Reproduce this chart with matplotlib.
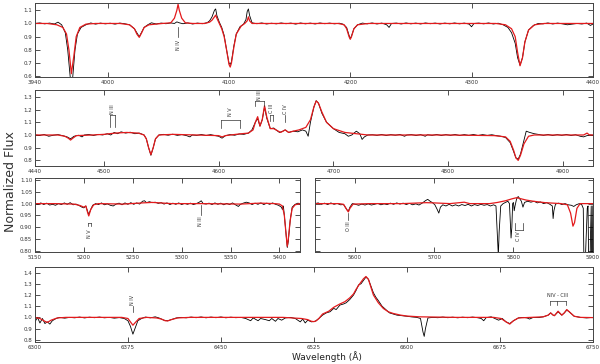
import matplotlib
matplotlib.use('Agg')
from matplotlib import pyplot as plt
import numpy as np

####  dati  ####
# pannello 1 : 3940-4400
wl1_obs = [3940,3944,3948,3952,3956,3959,3962,3965,3967,3969,3970,3971,3973,3975,3978,3982,3986,3990,3994,3998,
	4002,4006,4010,4014,4018,4022,4024,4026,4028,4030,4033,4036,4040,4044,4048,4052,4055,4057,4059,4062,
	4066,4070,4074,4078,4082,4084,4086,4088,4089,4090,4092,4094,4096,4098,4100,4101,4102,4104,4106,4109,
	4112,4114,4115,4116,4117,4119,4123,4127,4131,4135,4139,4143,4147,4151,4155,4159,4163,4167,4171,4175,
	4179,4183,4187,4191,4194,4197,4199,4200,4201,4203,4206,4210,4214,4218,4222,4226,4230,4232,4234,4238,
	4242,4246,4250,4254,4258,4262,4266,4270,4274,4278,4282,4286,4290,4294,4298,4300,4302,4306,4310,4314,
	4318,4322,4326,4330,4333,4336,4338,4340,4342,4344,4347,4351,4355,4359,4363,4367,4371,4375,4379,4383,
	4387,4391,4395,4398,4400]
fl1_obs = [1.0,1.004,0.997,1.003,0.996,1.01,0.99,0.93,0.8,0.6,0.5,0.58,0.8,0.92,0.97,0.99,1.004,0.995,1.003,0.997,
	1.002,0.995,1.003,0.998,0.99,0.96,0.93,0.9,0.935,0.97,0.99,1.005,0.996,1.003,0.998,1.004,1.0,1.012,1.005,0.998,
	1.004,0.996,1.003,0.998,1.006,1.02,1.05,1.1,1.11,1.06,1.01,0.97,0.91,0.8,0.7,0.69,0.71,0.83,0.92,0.975,
	0.995,1.03,1.09,1.11,1.06,1.005,0.998,1.004,0.996,1.002,0.997,1.004,0.998,1.003,0.995,1.004,0.997,1.003,0.996,1.004,
	0.998,1.003,0.997,1.002,0.995,0.97,0.91,0.885,0.905,0.96,0.99,1.003,0.997,1.004,0.996,1.003,0.99,0.97,1.0,1.003,
	0.996,1.004,0.997,1.003,0.996,1.004,0.998,1.003,0.996,1.003,0.997,1.004,0.997,1.003,0.995,0.975,1.0,1.003,0.997,1.004,
	0.996,1.002,0.99,0.97,0.93,0.85,0.74,0.685,0.74,0.86,0.95,0.985,1.0,0.997,1.004,0.996,1.003,0.997,0.99,0.995,
	1.0,0.996,1.003,0.985,0.995]
wl1_mod = [3940,3950,3958,3963,3966,3968,3970,3972,3974,3977,3982,3990,4010,4018,4022,4024,4026,4028,4030,4034,
	4045,4052,4055,4057,4058,4059,4061,4064,4070,4080,4084,4086,4088,4089,4090,4092,4094,4096,4098,4100,
	4101,4102,4104,4106,4110,4113,4115,4116,4117,4119,4122,4130,4190,4195,4197,4199,4200,4201,4203,4206,
	4215,4320,4328,4333,4336,4338,4340,4342,4344,4347,4352,4360,4400]
fl1_mod = [1.0,1.0,0.99,0.97,0.92,0.8,0.62,0.75,0.9,0.97,0.995,1.0,1.0,0.99,0.96,0.92,0.895,0.93,0.97,0.99,
	1.0,1.005,1.04,1.1,1.145,1.1,1.04,1.005,1.0,1.0,1.01,1.025,1.05,1.063,1.04,1.0,0.96,0.9,0.8,0.69,
	0.67,0.7,0.82,0.92,0.98,1.0,1.02,1.05,1.02,1.0,1.0,1.0,1.0,0.99,0.96,0.9,0.88,0.9,0.96,0.99,
	1.0,1.0,0.99,0.96,0.9,0.78,0.68,0.74,0.86,0.95,0.99,1.0,1.0]

# pannello 2 : 4440-4926
wl2_obs = [4440,4444,4448,4452,4456,4460,4464,4468,4471,4474,4478,4481,4483,4487,4491,4495,4499,4503,4506,4509,
	4512,4515,4519,4523,4527,4531,4535,4537,4539,4541,4543,4545,4548,4552,4556,4560,4564,4568,4572,4575,
	4577,4581,4585,4589,4593,4597,4600,4603,4606,4610,4614,4618,4622,4626,4629,4632,4634,4636,4638,4640,
	4642,4645,4648,4650,4653,4656,4658,4661,4665,4669,4673,4676,4678,4680,4683,4685,4687,4690,4694,4700,
	4705,4710,4713,4716,4720,4723,4725,4727,4730,4734,4738,4742,4746,4750,4754,4758,4762,4764,4768,4772,
	4776,4780,4782,4786,4790,4794,4798,4802,4806,4810,4814,4818,4822,4826,4830,4834,4838,4842,4846,4850,
	4854,4857,4859,4861,4863,4866,4868,4871,4875,4879,4883,4887,4891,4895,4899,4903,4907,4911,4915,4918,
	4921,4924,4926]
fl2_obs = [1.0,0.996,1.004,0.99,0.998,1.003,0.995,0.985,0.97,0.99,0.998,0.985,1.0,1.004,0.996,1.005,1.0,1.01,1.0,1.02,
	1.01,1.025,1.015,1.022,1.01,1.015,1.0,0.97,0.9,0.84,0.9,0.97,1.0,1.005,0.998,1.006,0.997,1.003,0.995,0.985,
	1.0,0.997,1.004,0.996,1.003,0.995,0.99,0.975,0.995,1.003,0.998,1.008,1.005,1.015,1.04,1.1,1.13,1.07,1.12,1.22,
	1.13,1.05,1.055,1.04,1.02,1.03,1.04,1.02,1.03,1.025,1.04,1.03,0.99,1.1,1.22,1.27,1.25,1.17,1.1,1.05,
	1.02,1.01,0.99,1.0,1.03,1.01,0.965,0.985,1.0,1.002,0.997,1.004,0.996,1.003,0.998,1.004,0.99,1.0,1.003,0.996,
	1.003,0.99,1.002,0.997,1.004,0.996,1.003,0.997,1.004,0.996,1.003,0.997,1.004,0.996,1.003,0.997,1.002,0.995,0.99,0.98,
	0.94,0.87,0.82,0.81,0.85,0.96,1.03,1.02,1.01,1.004,0.997,1.004,0.996,1.003,0.997,1.004,0.996,1.002,0.99,0.985,
	0.995,1.0,0.998]
wl2_mod = [4440,4460,4466,4469,4471,4473,4476,4490,4500,4510,4520,4530,4535,4537,4539,4541,4543,4545,4548,4560,
	4580,4600,4603,4606,4615,4620,4626,4630,4632,4634,4636,4638,4640,4642,4645,4648,4650,4654,4658,4661,
	4665,4670,4676,4680,4683,4685,4687,4690,4694,4700,4710,4720,4730,4800,4840,4850,4854,4857,4859,4861,
	4863,4866,4870,4875,4918,4921,4923,4926]
fl2_mod = [1.0,1.0,0.99,0.975,0.96,0.975,0.995,1.0,1.005,1.015,1.02,1.015,1.0,0.97,0.9,0.845,0.9,0.97,1.0,1.005,
	1.0,0.995,0.985,0.995,1.005,1.01,1.015,1.04,1.1,1.144,1.07,1.12,1.23,1.14,1.05,1.05,1.04,1.02,1.04,1.02,
	1.03,1.04,1.06,1.12,1.22,1.268,1.25,1.18,1.1,1.05,1.02,1.01,1.0,1.0,0.995,0.985,0.95,0.88,0.82,0.8,
	0.84,0.93,0.99,1.0,1.0,1.015,1.0,1.0]

# pannello 3 sinistra : 5150-5421
wl3_obs = [5150,5153,5156,5159,5162,5165,5168,5171,5174,5177,5180,5183,5186,5189,5192,5195,5198,5200,5202,5204,
	5205,5207,5209,5212,5215,5218,5221,5224,5227,5230,5233,5236,5239,5242,5245,5248,5251,5254,5257,5260,
	5262,5264,5267,5270,5273,5276,5279,5282,5285,5288,5291,5294,5297,5300,5303,5306,5309,5312,5315,5318,
	5320,5322,5325,5328,5331,5334,5337,5340,5343,5346,5349,5352,5355,5358,5360,5363,5366,5369,5372,5375,
	5378,5381,5384,5387,5390,5393,5396,5399,5402,5403,5404,5405,5407,5408,5409,5411,5413,5416,5419,5421]
fl3_obs = [1.0,0.997,1.003,0.996,1.002,0.994,0.997,0.993,1.0,0.996,1.003,0.997,1.004,0.995,0.998,0.992,0.985,0.982,0.99,0.965,
	0.955,0.975,0.993,1.0,0.996,1.003,0.995,0.999,0.993,0.99,0.998,1.002,0.995,1.003,0.997,1.004,0.997,1.003,0.998,1.01,
	1.012,1.004,1.008,1.004,1.006,1.001,1.004,0.998,1.003,0.996,1.002,0.997,1.003,0.996,1.001,0.997,1.002,0.996,1.0,1.006,
	1.012,1.0,0.998,1.002,0.996,1.003,0.997,1.002,0.995,1.001,0.996,1.003,0.995,0.988,0.997,1.002,1.006,1.003,0.996,1.002,
	0.997,1.003,0.996,1.002,0.997,1.003,0.997,0.993,0.985,0.975,0.99,0.95,0.86,0.815,0.84,0.93,0.985,0.997,1.002,0.998]
wl3_mod = [5150,5170,5190,5196,5200,5202,5204,5205,5207,5210,5215,5240,5260,5270,5290,5320,5360,5380,5395,5400,
	5403,5405,5407,5408,5409,5411,5413,5416,5421]
fl3_mod = [1.0,1.0,0.998,0.992,0.985,0.99,0.96,0.948,0.975,0.995,1.0,0.998,1.003,1.005,1.0,1.0,0.998,1.002,1.0,0.998,
	0.99,0.95,0.86,0.82,0.85,0.93,0.98,0.995,1.0]

# pannello 3 destra : 5550-5900
wl4_obs = [5550,5554,5558,5562,5566,5570,5574,5578,5582,5586,5590,5592,5594,5597,5601,5605,5609,5613,5617,5621,
	5625,5629,5633,5637,5641,5645,5649,5653,5657,5661,5665,5669,5673,5677,5681,5685,5689,5692,5695,5698,
	5701,5704,5706,5708,5711,5715,5719,5723,5727,5731,5735,5739,5743,5747,5751,5755,5759,5763,5767,5771,
	5775,5778,5780,5781,5782,5784,5787,5790,5793,5795,5797,5798,5799,5800,5801,5802,5804,5806,5808,5810,
	5812,5814,5818,5822,5826,5830,5834,5838,5842,5846,5849,5850,5851,5853,5857,5861,5865,5869,5873,5876,
	5879,5883,5886,5888,5889,5890,5891,5893,5894,5895,5896,5897,5898,5899,5900]
fl4_obs = [1.0,1.003,0.997,1.002,0.996,1.003,0.997,1.001,0.995,0.996,0.975,0.968,0.985,1.0,0.997,0.993,0.998,0.994,0.999,0.994,
	0.997,1.001,0.995,0.999,0.996,1.002,0.997,1.003,0.998,1.002,0.996,1.001,0.995,0.999,0.994,1.002,1.012,1.018,1.01,1.004,
	0.995,0.975,0.96,0.985,0.995,0.99,0.997,0.99,0.995,0.99,0.996,0.992,0.997,0.99,0.996,0.992,0.997,0.993,0.996,0.99,
	0.995,0.99,0.85,0.78,0.88,0.99,1.0,1.005,1.01,1.0,0.855,0.9,1.0,1.005,0.97,0.99,1.02,1.03,1.02,1.01,
	0.985,1.005,1.01,1.006,1.01,1.003,1.007,1.0,1.004,0.997,0.99,0.937,0.97,0.998,1.002,0.996,1.0,0.995,0.993,0.988,
	0.995,1.0,0.996,0.98,0.7,0.6,0.8,0.98,0.99,0.7,0.6,0.85,0.99,0.6,0.99]
wl4_mod = [5550,5580,5586,5590,5592,5594,5598,5620,5660,5690,5700,5720,5738,5745,5770,5780,5790,5798,5804,5810,
	5816,5825,5840,5860,5868,5872,5875,5877,5880,5884,5900]
fl4_mod = [1.0,1.0,0.997,0.975,0.965,0.98,0.998,1.0,1.0,1.004,1.003,1.0,1.006,1.0,1.0,1.005,1.012,1.02,1.025,1.02,
	1.015,1.01,1.004,1.0,0.995,0.96,0.905,0.92,0.98,1.0,1.0]

# pannello 4 : 6300-6750
wl5_obs = [6300,6302,6304,6306,6308,6310,6312,6314,6317,6320,6324,6328,6332,6336,6340,6344,6348,6352,6356,6360,
	6364,6368,6372,6375,6377,6379,6381,6383,6386,6389,6393,6397,6400,6404,6407,6410,6414,6418,6422,6426,
	6430,6434,6438,6442,6446,6450,6454,6458,6462,6466,6470,6474,6476,6480,6482,6486,6489,6491,6494,6496,
	6499,6502,6506,6510,6514,6516,6518,6520,6523,6526,6529,6532,6535,6538,6541,6543,6546,6549,6551,6554,
	6557,6559,6561,6563,6565,6567,6569,6571,6573,6575,6577,6580,6583,6586,6589,6592,6596,6600,6604,6608,
	6611,6613,6614,6615,6617,6621,6625,6629,6633,6637,6641,6645,6649,6653,6657,6660,6662,6664,6668,6671,
	6674,6677,6680,6683,6686,6690,6694,6697,6699,6702,6706,6710,6714,6716,6718,6719,6722,6725,6727,6729,
	6731,6735,6740,6745,6750]
fl5_obs = [0.96,1.0,0.95,0.99,0.945,0.96,0.94,0.97,0.99,1.0,0.993,1.0,0.996,1.003,0.995,1.002,0.997,1.003,0.996,1.0,
	0.993,0.998,0.99,0.97,0.92,0.85,0.91,0.97,0.99,1.003,0.996,1.005,0.995,0.975,0.97,0.98,0.995,1.0,0.996,1.003,
	0.997,1.004,0.996,1.003,0.997,1.004,0.996,1.002,0.997,1.0,0.99,0.97,0.995,0.97,0.99,0.98,0.97,0.99,0.965,0.99,
	0.975,0.995,1.0,0.99,0.96,0.985,0.95,0.975,0.96,0.965,0.99,1.02,1.04,1.05,1.08,1.07,1.11,1.12,1.13,1.16,
	1.2,1.24,1.29,1.3,1.33,1.36,1.34,1.28,1.22,1.18,1.15,1.1,1.07,1.04,1.03,1.02,1.015,1.01,1.004,1.0,
	0.99,0.87,0.83,0.9,0.995,1.0,0.997,1.003,0.997,1.002,0.996,1.002,0.997,1.003,0.997,0.99,0.97,0.998,1.005,0.99,
	0.975,0.99,0.96,0.945,0.97,0.995,1.0,0.995,0.985,1.0,0.998,1.005,1.02,1.04,1.02,1.015,1.05,1.02,1.04,1.065,
	1.05,1.01,1.0,0.995,1.0]
wl5_mod = [6300,6304,6308,6310,6313,6318,6325,6370,6375,6377,6379,6381,6384,6390,6398,6402,6405,6407,6410,6415,
	6425,6500,6515,6520,6523,6525,6527,6529,6532,6537,6541,6546,6550,6554,6557,6559,6562,6565,6567,6569,
	6571,6573,6577,6581,6585,6589,6595,6600,6610,6640,6670,6676,6680,6683,6686,6690,6700,6710,6714,6716,
	6718,6719,6722,6725,6727,6729,6731,6735,6740,6750]
fl5_mod = [1.0,0.99,0.965,0.955,0.975,0.995,1.0,1.0,0.99,0.96,0.93,0.955,0.99,1.0,0.995,0.985,0.97,0.968,0.98,0.995,
	1.0,1.0,0.99,0.98,0.965,0.962,0.97,0.99,1.03,1.055,1.09,1.12,1.14,1.175,1.21,1.25,1.3,1.345,1.365,1.34,
	1.27,1.2,1.13,1.08,1.05,1.035,1.02,1.012,1.005,1.0,1.0,0.99,0.96,0.94,0.97,0.995,1.0,1.005,1.02,1.04,
	1.02,1.015,1.055,1.02,1.04,1.07,1.05,1.01,1.0,0.998]

	####	####	####	####

fig1 = plt.figure(figsize=(6.0, 3.64), dpi=100)

def pannello(rect, wo, fo, wm, fm, xlim, ylim, xt, yt, yfmt, ylab=True):
	ax = fig1.add_axes(rect)
	ax.plot(wo, fo, '-', c='black', lw=0.6)
	ax.plot(wm, fm, '-', c='#e31a1c', lw=0.9)
	ax.set_xlim(xlim)
	ax.set_ylim(ylim)
	ax.set_xticks(xt)
	ax.set_yticks(yt)
	if ylab:
		ax.set_yticklabels([yfmt % v for v in yt])
	else:
		ax.set_yticklabels([])
	ax.tick_params(direction='in', top=True, right=True, length=3.5, width=0.6,
		labelsize=4, pad=2, colors='#333333')
	for s in ax.spines.values():
		s.set_color('#444444')
		s.set_linewidth(0.7)
	return ax

def riga(ax, x, y, lab, ty, rot=90):
	# trattino verticale + etichetta
	ax.plot([x, x], y, c='#333333', lw=0.5)
	ax.text(x, ty, lab, rotation=rot, ha='center', va='center', fontsize=3.5, color='#333333')

def parentesi(ax, xs, ytop, ybot, lab, ty, rot=90):
	ax.plot([xs[0], xs[-1]], [ytop, ytop], c='#333333', lw=0.5)
	for x in xs:
		ax.plot([x, x], [ytop, ybot], c='#333333', lw=0.5)
	ax.text(np.mean([xs[0], xs[-1]]), ty, lab, rotation=rot, ha='center', va='center',
		fontsize=3.5, color='#333333')

# GRAFICO 1
f1 = pannello([0.0583, 0.7885, 0.9297, 0.2033], wl1_obs, fl1_obs, wl1_mod, fl1_mod,
	(3940, 4400), (0.595, 1.155), [3940, 4000, 4100, 4200, 4300, 4400],
	[0.6, 0.7, 0.8, 0.9, 1.0, 1.1], '%.1f')
riga(f1, 4058, [0.97, 0.9], 'N IV', 0.835)

# GRAFICO 2
f2 = pannello([0.0583, 0.544, 0.9297, 0.2087], wl2_obs, fl2_obs, wl2_mod, fl2_mod,
	(4440, 4926), (0.756, 1.354), [4440, 4500, 4600, 4700, 4800, 4900],
	[0.8, 0.9, 1.0, 1.1, 1.2, 1.3], '%.1f')
parentesi(f2, [4505.5, 4510], 1.16, 1.06, 'N III', 1.205)
parentesi(f2, [4602, 4618.5], 1.12, 1.055, 'N V', 1.18)
parentesi(f2, [4632, 4639.5], 1.265, 1.225, 'N III', 1.31)
parentesi(f2, [4645, 4647.5], 1.16, 1.11, 'C III', 1.21)
riga(f2, 4658, [1.1, 1.16], 'C IV', 1.2)

# GRAFICO 3
f3 = pannello([0.0583, 0.3077, 0.4417, 0.2033], wl3_obs, fl3_obs, wl3_mod, fl3_mod,
	(5150, 5421), (0.796, 1.108), [5150, 5200, 5250, 5300, 5350, 5400],
	[0.80, 0.85, 0.90, 0.95, 1.00, 1.05, 1.10], '%.2f')
parentesi(f3, [5204, 5207], 0.92, 0.905, 'N V', 0.875)
riga(f3, 5319.5, [0.953, 0.995], 'N III', 0.925)

f4 = pannello([0.525, 0.3077, 0.463, 0.2033], wl4_obs, fl4_obs, wl4_mod, fl4_mod,
	(5550, 5900), (0.796, 1.108), [5600, 5700, 5800, 5900],
	[0.80, 0.85, 0.90, 0.95, 1.00, 1.05, 1.10], '%.2f', ylab=False)
riga(f4, 5592, [0.93, 0.962], 'O III', 0.905)
parentesi(f4, [5802, 5811.5], 0.89, 0.92, 'C IV', 0.862)

# GRAFICO 4
f5 = pannello([0.0583, 0.0604, 0.9297, 0.2061], wl5_obs, fl5_obs, wl5_mod, fl5_mod,
	(6300, 6750), (0.78, 1.45), [6300, 6375, 6450, 6525, 6600, 6675, 6750],
	[0.8, 0.9, 1.0, 1.1, 1.2, 1.3, 1.4], '%.1f')
riga(f5, 6379, [1.05, 1.1], 'N IV', 1.155)
parentesi(f5, [6715.5, 6721, 6728], 1.15, 1.11, 'NIV - CIII', 1.195, rot=0)

fig1.text(0.017, 0.5, 'Normalized Flux', rotation=90, ha='center', va='center', fontsize=9, color='#333333')
fig1.text(0.545, 0.02, u'Wavelength (Å)', ha='center', va='center', fontsize=6.5, color='#222222')

fig1.savefig('out.png', dpi=100)
